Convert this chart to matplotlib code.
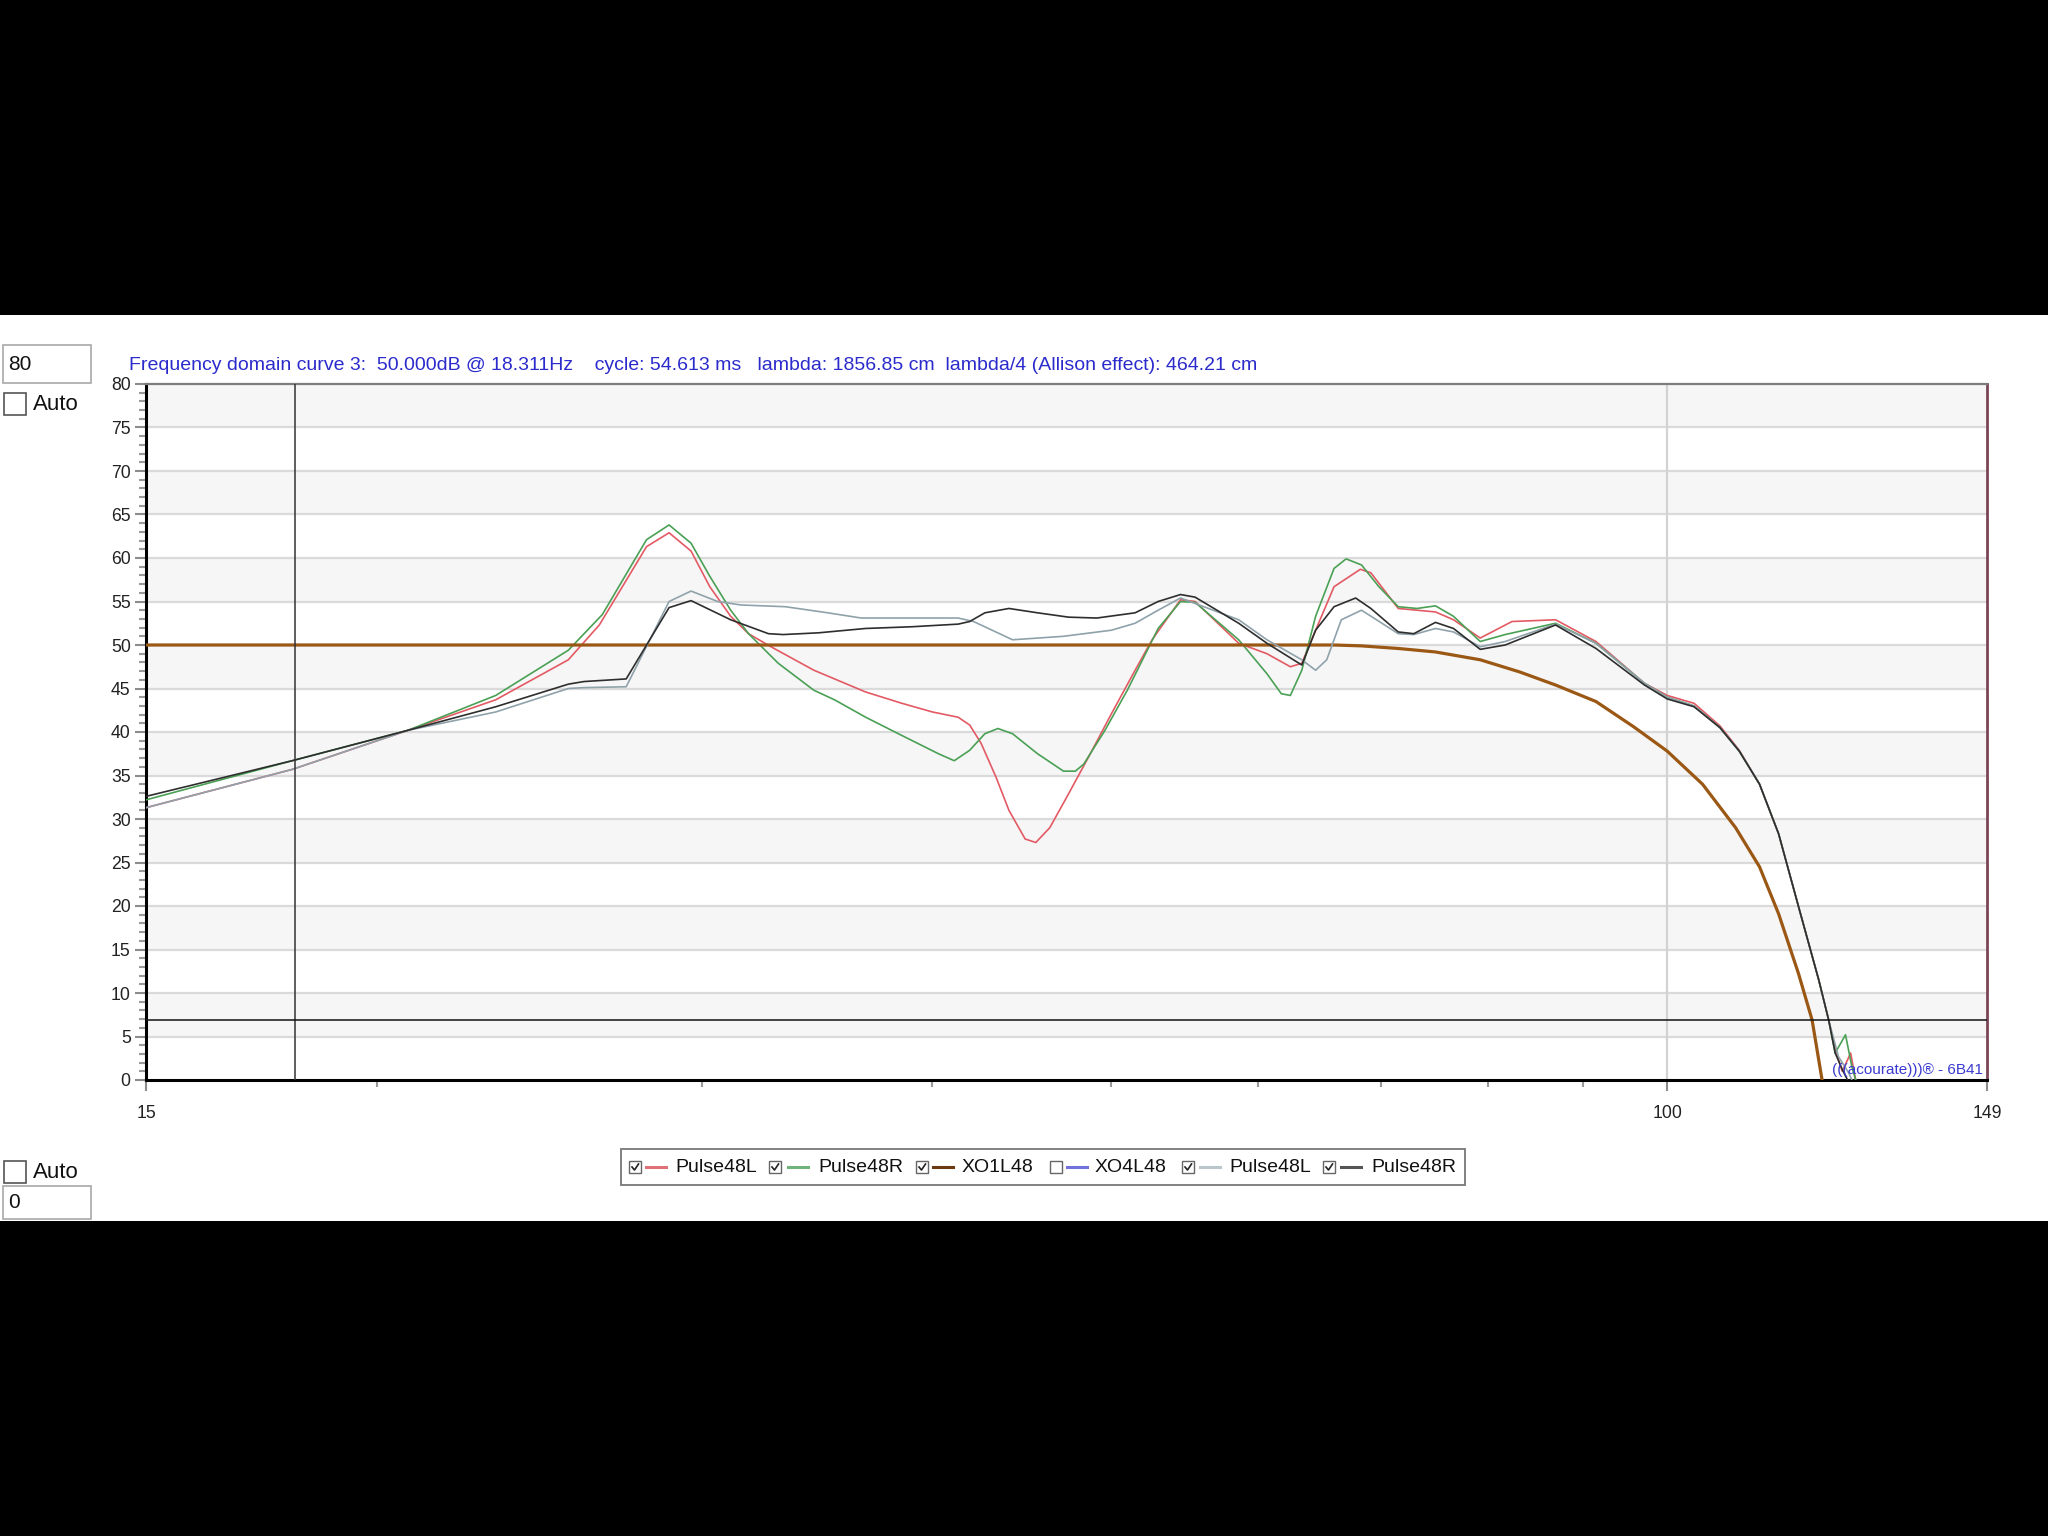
import matplotlib
matplotlib.use('Agg')
import matplotlib.pyplot as plt
from matplotlib.patches import Rectangle
from matplotlib.lines import Line2D
from matplotlib.ticker import NullFormatter

plt.rcParams['font.family'] = ['Liberation Sans', 'DejaVu Sans']

# values (frequency in Hz, level in dB)
red_f = [15.0, 18.0, 20.8, 23.2, 25.4, 26.4, 28.0, 28.8, 29.6, 30.3, 31.1, 31.8, 32.7, 34.5, 36.8, 38.5,
         40.0, 41.3, 41.9, 42.5, 43.3, 44.0, 44.9, 45.5, 46.3, 47.4, 48.7, 50.0, 51.5, 52.6, 54.5, 55.5,
         58.6, 60.7, 62.5, 63.4, 64.5, 66.0, 68.2, 69.1, 71.5, 74.9, 76.6, 79.2, 82.4, 87.0, 91.5, 97.2,
         100.0, 103.4, 106.8, 109.4, 112.2, 114.9, 117.8, 120.8, 122.3, 123.3, 124.4, 125.7, 127.0]
red_db = [31.3, 35.7, 40.2, 43.7, 48.3, 52.3, 61.3, 62.9, 60.8, 56.7, 53.3, 51.3, 49.8, 47.1, 44.6, 43.3,
          42.3, 41.7, 40.8, 38.7, 34.8, 31.0, 27.7, 27.3, 29.0, 32.9, 37.5, 42.1, 47.1, 50.6, 55.2, 55.0,
          50.2, 49.0, 47.5, 47.9, 51.7, 56.7, 58.7, 58.3, 54.2, 53.8, 52.9, 50.8, 52.7, 52.9, 50.4, 45.6,
          44.2, 43.3, 40.7, 37.9, 34.0, 28.3, 19.9, 11.5, 6.9, 3.5, 1.0, 3.1, -2.0]

green_f = [15.0, 18.0, 20.8, 23.2, 25.4, 26.5, 28.0, 28.8, 29.6, 30.3, 31.1, 31.8, 33.0, 34.5, 35.4, 36.8,
           38.5, 40.3, 41.1, 41.9, 42.7, 43.4, 44.2, 45.6, 47.1, 47.8, 48.3, 49.6, 51.0, 52.4, 53.0, 54.5,
           55.5, 58.6, 60.7, 61.8, 62.5, 63.4, 64.5, 66.0, 67.0, 68.3, 69.8, 71.5, 73.2, 74.9, 76.6, 79.2,
           81.7, 87.0, 91.5, 97.2, 100.0, 103.4, 106.8, 109.4, 112.2, 114.9, 117.8, 120.8, 122.3, 123.3,
           124.9, 125.9, 126.9]
green_db = [32.2, 36.7, 40.2, 44.2, 49.4, 53.5, 62.1, 63.8, 61.7, 57.9, 54.0, 51.3, 47.9, 44.8, 43.7, 41.7,
            39.6, 37.5, 36.7, 37.9, 39.8, 40.4, 39.8, 37.5, 35.5, 35.5, 36.3, 40.2, 44.8, 49.8, 51.9, 55.0,
            54.9, 50.6, 46.7, 44.4, 44.2, 47.1, 53.3, 58.8, 59.9, 59.2, 56.7, 54.4, 54.2, 54.5, 53.3, 50.4,
            51.2, 52.5, 50.2, 45.6, 44.0, 43.0, 40.5, 37.8, 34.0, 28.3, 19.9, 11.5, 6.9, 3.1,
            5.2, 1.5, -1.0]

xo_f = [15.0, 66.0, 68.3, 71.5, 74.9, 79.2, 83.2, 87.0, 91.5, 95.9, 100.0, 104.5, 108.9, 112.2, 114.9,
        117.8, 119.8, 121.3, 122.5]
xo_db = [50.0, 50.0, 49.9, 49.6, 49.2, 48.3, 46.9, 45.4, 43.5, 40.6, 37.8, 34.0, 29.0, 24.5, 19.1,
         12.2, 6.9, 0.0, -4.0]

gray_f = [15.0, 18.0, 20.8, 23.2, 25.4, 25.9, 27.3, 28.8, 29.6, 30.6, 31.5, 33.3, 35.1, 36.6, 41.3, 42.1,
          44.2, 47.1, 50.0, 51.5, 53.0, 54.5, 58.6, 60.7, 63.4, 64.5, 65.4, 66.6, 68.3, 71.5, 72.9, 74.9,
          76.6, 79.2, 81.7, 87.0, 91.5, 97.2, 100.0, 103.4, 106.8, 109.4, 112.2, 114.9, 117.8, 120.8,
          122.3, 123.8, 125.4, 126.5]
gray_db = [31.3, 35.7, 40.2, 42.3, 45.0, 45.1, 45.2, 55.0, 56.2, 55.0, 54.6, 54.4, 53.7, 53.1, 53.1, 52.7,
           50.6, 51.0, 51.7, 52.5, 54.0, 55.4, 52.9, 50.6, 48.3, 47.1, 48.3, 52.9, 54.0, 51.3, 51.2, 51.9,
           51.5, 49.8, 50.4, 52.4, 50.2, 45.6, 44.0, 43.0, 40.5, 37.8, 34.0, 28.3, 19.9, 11.5,
           6.9, 2.7, 0.8, -1.0]

black_f = [15.0, 18.0, 20.8, 23.2, 25.4, 25.9, 27.3, 28.8, 29.6, 31.1, 32.6, 33.2, 34.7, 36.8, 39.0, 41.3,
           41.9, 42.7, 44.0, 45.6, 47.4, 49.1, 51.5, 53.0, 54.5, 55.5, 58.6, 60.7, 63.4, 64.5, 66.0, 67.8,
           69.1, 71.5, 72.9, 74.9, 76.6, 79.2, 81.7, 87.0, 91.5, 97.2, 100.0, 103.4, 106.8, 109.4, 112.2,
           114.9, 117.8, 120.8, 122.3, 123.3, 124.4, 125.9]
black_db = [32.6, 36.7, 40.2, 42.9, 45.5, 45.8, 46.1, 54.3, 55.1, 52.9, 51.3, 51.2, 51.4, 51.9, 52.1, 52.4,
            52.7, 53.7, 54.2, 53.7, 53.2, 53.1, 53.7, 55.0, 55.8, 55.5, 52.5, 50.2, 47.7, 51.7, 54.4, 55.4,
            54.2, 51.5, 51.3, 52.6, 51.9, 49.5, 50.0, 52.3, 49.6, 45.4, 43.8, 42.9, 40.5, 37.8, 34.0,
            28.3, 19.9, 11.5, 6.9, 3.1, 1.2, -1.0]

# cursor position as seen in the picture
cursor_hz = 18.06
cursor_db = 6.9
x_major = [15, 100, 149]
x_minor = [20, 30, 40, 50, 60, 70, 80, 90]

legend_names = ['Pulse48L', 'Pulse48R', 'XO1L48', 'XO4L48', 'Pulse48L', 'Pulse48R']
legend_checked = [True, True, True, False, True, True]

title = ('Frequency domain curve 3:  50.000dB @ 18.311Hz    cycle: 54.613 ms   '
         'lambda: 1856.85 cm  lambda/4 (Allison effect): 464.21 cm')

W, H = 2048, 1536


def fx(x):
    return x / W


def fy(y):
    return 1 - y / H


fig = plt.figure(figsize=(20.48, 15.36), dpi=100, facecolor='black')
# white window area between the black bars
fig.add_artist(Rectangle((0, fy(1221)), 1, (1221 - 315) / H, transform=fig.transFigure,
                         facecolor='white', edgecolor='none', zorder=-10))

ax = fig.add_axes([fx(146), fy(1080), 1841 / W, 696 / H])
ax.set_xscale('log')
ax.set_xlim(15, 149)
ax.set_ylim(0, 80)

# alternating bands + grid
for k in range(5, 80, 10):
    ax.axhspan(k, k + 5, color='#f6f6f6', zorder=0, lw=0)
for v in range(5, 80, 5):
    ax.axhline(v, color='#dadada', lw=1.6, zorder=0.5)
ax.axvline(100, color='#d2d2d2', lw=1.6, zorder=0.5)

ax.plot(red_f, red_db, color='#e35a64', lw=1.2, zorder=3)
ax.plot(green_f, green_db, color='#4aa055', lw=1.2, zorder=3)
ax.plot(xo_f, xo_db, color='#9a5814', lw=2.3, zorder=3)
ax.plot(gray_f, gray_db, color='#8fa2ab', lw=1.2, zorder=3)
ax.plot(black_f, black_db, color='#2e2e2e', lw=1.2, zorder=3)

# cursor lines
ax.axvline(cursor_hz, color='#333333', lw=1.1, zorder=4)
ax.axhline(cursor_db, color='#111111', lw=1.1, zorder=4)

ax.set_xticks(x_major, labels=[str(v) for v in x_major])
ax.set_xticks(x_minor, minor=True)
ax.xaxis.set_minor_formatter(NullFormatter())
ax.set_yticks(range(0, 81, 5))
ax.set_yticks(range(0, 81, 1), minor=True)
ax.tick_params(axis='both', which='major', colors='#8c8c8c', labelcolor='#222222', width=1.5,
               length=8, labelsize=12.7)
ax.tick_params(axis='both', which='minor', colors='#9a9a9a', width=1.5, length=5)
ax.tick_params(axis='x', which='major', pad=10)
ax.tick_params(axis='y', which='major', pad=3)

ax.spines['left'].set_color('black')
ax.spines['left'].set_linewidth(2.2)
ax.spines['bottom'].set_color('black')
ax.spines['bottom'].set_linewidth(2.2)
ax.spines['top'].set_color('#7d7d7d')
ax.spines['top'].set_linewidth(1.6)
ax.spines['right'].set_color('#7a4656')
ax.spines['right'].set_linewidth(2.0)

ax.text(0.998, 0.004, '(((acourate)))® - 6B41', transform=ax.transAxes, ha='right', va='bottom',
        color='#3a3ad0', fontsize=11, zorder=5)

fig.text(fx(129), fy(365), title, color='#2b2bcc', fontsize=14, va='center', ha='left')

# left-side controls
for (x0, y0, x1, y1), txt in [((3, 345, 91, 383), '80'), ((3, 1186, 91, 1219), '0')]:
    fig.add_artist(Rectangle((fx(x0), fy(y1)), (x1 - x0) / W, (y1 - y0) / H, transform=fig.transFigure,
                             facecolor='white', edgecolor='#a8a8a8', lw=1.2))
    fig.text(fx(x0 + 5), fy((y0 + y1) / 2), txt, fontsize=15, va='center', ha='left', color='#111111')
for yc in [404, 1172]:
    fig.add_artist(Rectangle((fx(4), fy(yc + 11)), 22 / W, 22 / H, transform=fig.transFigure,
                             facecolor='white', edgecolor='#555555', lw=1.2))
    fig.text(fx(33), fy(yc), 'Auto', fontsize=16, va='center', ha='left', color='#111111')

# legend box
fig.add_artist(Rectangle((fx(621), fy(1185)), (1465 - 621) / W, 36 / H, transform=fig.transFigure,
                         facecolor='white', edgecolor='#777777', lw=1.3))
legend_colors = ['#e07078', '#6fb47a', '#6b3a12', '#7272dc', '#b9c6cc', '#555555']
box_x = [629, 769, 916, 1050, 1182, 1323]
line_x = [646, 788, 933, 1067, 1200, 1341]
text_x = [675, 818, 962, 1095, 1229, 1371]
yc = 1167
for i, name in enumerate(legend_names):
    fig.add_artist(Rectangle((fx(box_x[i]), fy(yc + 6)), 12 / W, 12 / H, transform=fig.transFigure,
                             facecolor='white', edgecolor='#666666', lw=1.0))
    if legend_checked[i]:
        bx = box_x[i]
        fig.add_artist(Line2D([fx(bx + 3), fx(bx + 5.5), fx(bx + 9.5)], [fy(yc), fy(yc + 3), fy(yc - 3)],
                              transform=fig.transFigure, color='#222222', lw=1.2))
    fig.add_artist(Line2D([fx(line_x[i]), fx(line_x[i] + 20)], [fy(yc), fy(yc)], transform=fig.transFigure,
                          color=legend_colors[i], lw=2.2))
    fig.text(fx(text_x[i]), fy(yc), name, fontsize=14, va='center', ha='left', color='#111111')

fig.savefig('out.png', dpi=100, facecolor='black')
